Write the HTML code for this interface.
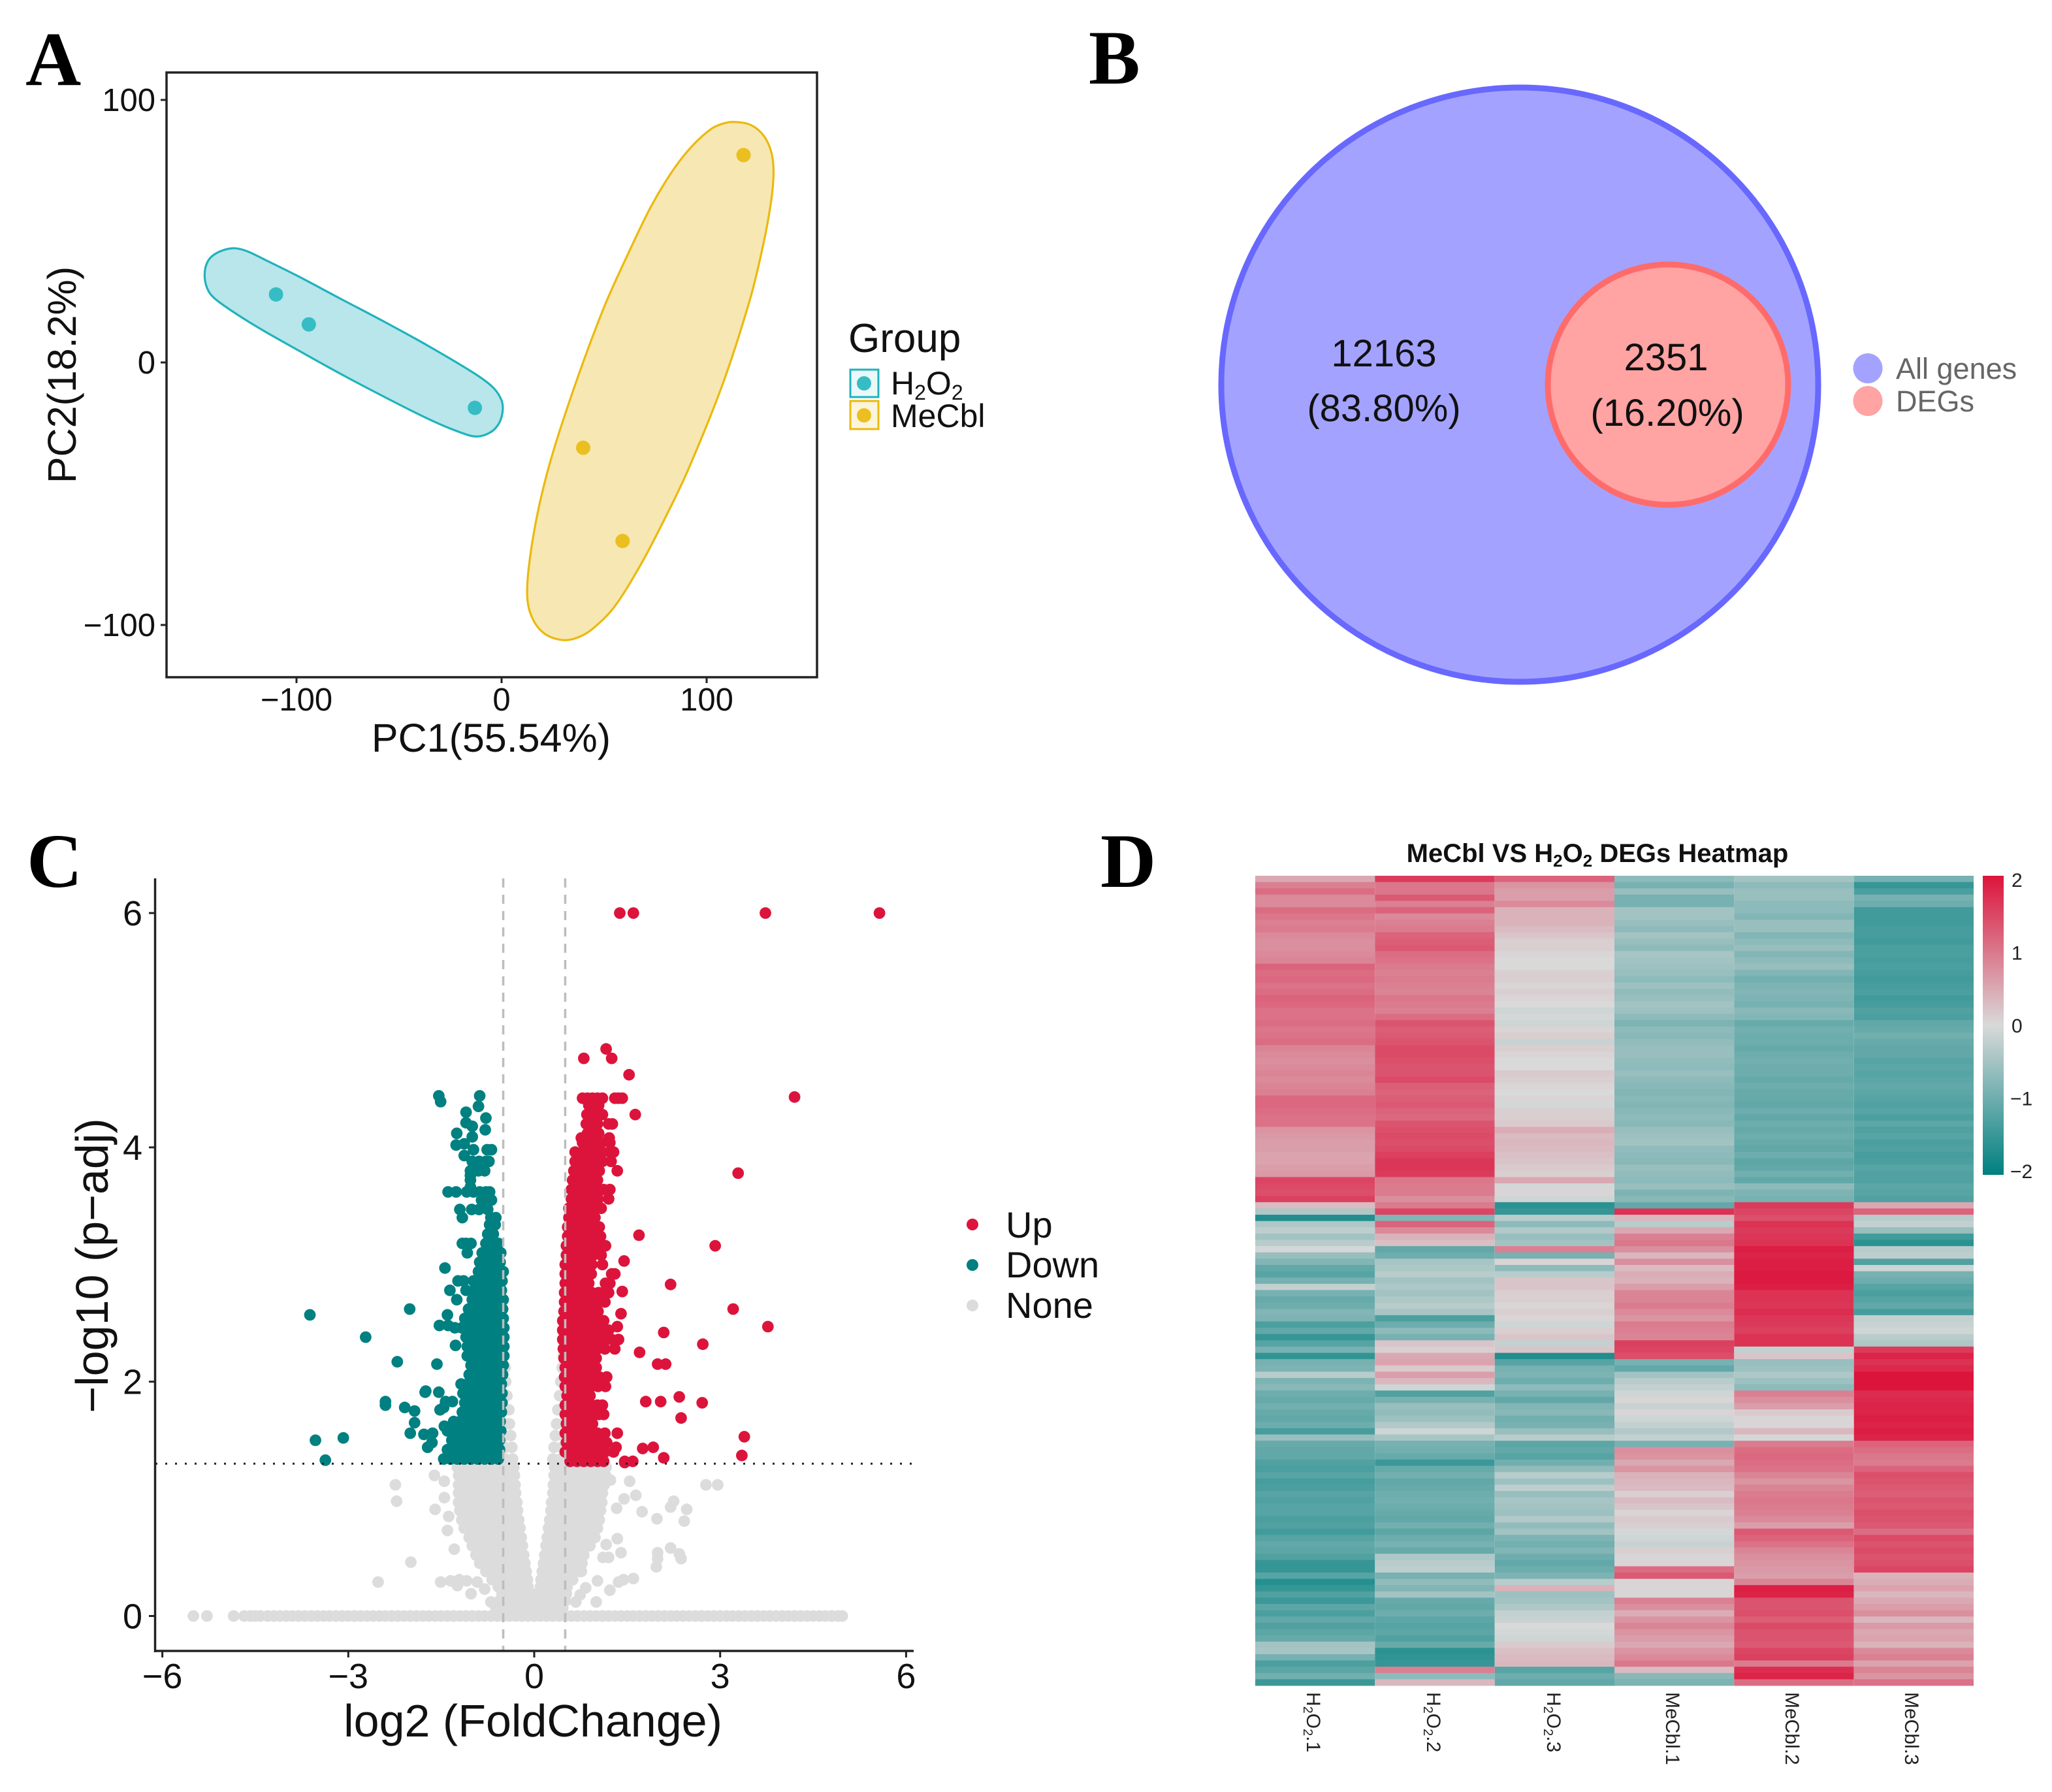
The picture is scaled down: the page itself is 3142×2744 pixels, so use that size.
<!DOCTYPE html>
<html lang="en">
<head>
<meta charset="utf-8">
<title>PCA, Venn, volcano and heatmap panels</title>
<style>
html,body{margin:0;padding:0;background:#fff;}
svg{display:block;font-family:"Liberation Sans",Arial,sans-serif;}
.panel{font-family:"Liberation Serif",serif;font-weight:bold;font-size:118px;fill:#000;}
</style>
</head>
<body>
<svg id="fig" xmlns="http://www.w3.org/2000/svg" width="3142" height="2744" viewBox="0 0 3142 2744">
<defs>
<linearGradient id="heatGrad" x1="0" y1="0" x2="0" y2="1">
<stop offset="0" stop-color="#DC143C"/><stop offset="0.5" stop-color="#D9D9D9"/><stop offset="1" stop-color="#008080"/>
</linearGradient>
</defs>
<rect width="3142" height="2744" fill="#fff"/>

<text class="panel" x="39" y="130">A</text>
<text class="panel" x="1667" y="128">B</text>
<text class="panel" x="41" y="1358">C</text>
<text class="panel" x="1685" y="1358">D</text>

<g id="pca">
<g id="pcaMarks"></g>
<rect x="255" y="111" width="996" height="926" fill="none" stroke="#222" stroke-width="3.5"/>
<g id="pcaAxes"></g>
<text x="752" y="1151" font-size="61" text-anchor="middle" fill="#111">PC1(55.54%)</text>
<text transform="translate(116,574) rotate(-90)" font-size="61" text-anchor="middle" fill="#111">PC2(18.2%)</text>
<text x="1299" y="539" font-size="62" fill="#111">Group</text>
<g>
<rect x="1302" y="566" width="43" height="42" fill="#EAF8F9" stroke="#1FB3BC" stroke-width="3"/>
<circle cx="1323" cy="587" r="11" fill="#36BCC4"/>
<text x="1364" y="604" font-size="50" fill="#111">H<tspan font-size="32" dy="8">2</tspan><tspan dy="-8">O</tspan><tspan font-size="32" dy="8">2</tspan></text>
</g>
<g>
<rect x="1302" y="614" width="43" height="43" fill="#FCF5DC" stroke="#EBB90F" stroke-width="3"/>
<circle cx="1323" cy="636" r="11" fill="#EBBF20"/>
<text x="1364" y="654" font-size="50" fill="#111">MeCbl</text>
</g>
</g>

<g id="venn">
<ellipse cx="2327" cy="589" rx="457" ry="455" fill="#A3A3FF" stroke="#6868FF" stroke-width="9"/>
<ellipse cx="2554" cy="589" rx="184" ry="184" fill="#FFA3A3" stroke="#FF6B6B" stroke-width="9"/>
<text x="2119" y="561" font-size="58" text-anchor="middle" fill="#111">12163</text>
<text x="2119" y="645" font-size="58" text-anchor="middle" fill="#111">(83.80%)</text>
<text x="2551" y="567" font-size="58" text-anchor="middle" fill="#111">2351</text>
<text x="2553" y="652" font-size="58" text-anchor="middle" fill="#111">(16.20%)</text>
<g>
<ellipse cx="2860" cy="564" rx="22.5" ry="23" fill="#A3A3FF"/>
<text x="2903" y="580" font-size="45" fill="#666">All genes</text>
</g>
<g>
<ellipse cx="2860" cy="614" rx="22.5" ry="23" fill="#FFA3A3"/>
<text x="2903" y="630" font-size="45" fill="#666">DEGs</text>
</g>
</g>

<g id="volcano">
<g id="volMarks"></g>
<g id="volRefs"></g>
<g id="volAxes"></g>
<text x="816" y="2659" font-size="70" text-anchor="middle" fill="#111">log2 (FoldChange)</text>
<text transform="translate(165,1938) rotate(-90)" font-size="70" text-anchor="middle" fill="#111">−log10 (p−adj)</text>
<g>
<circle cx="1489" cy="1875" r="9" fill="#DC143C"/>
<text x="1540" y="1895" font-size="56" fill="#111">Up</text>
</g>
<g>
<circle cx="1489" cy="1937" r="9" fill="#008080"/>
<text x="1540" y="1956" font-size="56" fill="#111">Down</text>
</g>
<g>
<circle cx="1489" cy="1999" r="9" fill="#DCDCDC"/>
<text x="1540" y="2018" font-size="56" fill="#111">None</text>
</g>
</g>

<g id="heat">
<text x="2446" y="1320" font-size="40" font-weight="bold" text-anchor="middle" fill="#111">MeCbl VS H<tspan font-size="26" dy="7">2</tspan><tspan dy="-7">O</tspan><tspan font-size="26" dy="7">2</tspan><tspan dy="-7"> DEGs Heatmap</tspan></text>
<g id="heatCells"></g>
<rect x="3036" y="1341" width="32" height="458" fill="url(#heatGrad)"/>
<g id="heatTicks"></g>
<g font-size="30" fill="#222">
<text transform="translate(2001,2591) rotate(90)">H<tspan font-size="20" dy="5">2</tspan><tspan dy="-5">O</tspan><tspan font-size="20" dy="5">2</tspan><tspan dy="-5">.1</tspan></text>
<text transform="translate(2185,2591) rotate(90)">H<tspan font-size="20" dy="5">2</tspan><tspan dy="-5">O</tspan><tspan font-size="20" dy="5">2</tspan><tspan dy="-5">.2</tspan></text>
<text transform="translate(2369,2591) rotate(90)">H<tspan font-size="20" dy="5">2</tspan><tspan dy="-5">O</tspan><tspan font-size="20" dy="5">2</tspan><tspan dy="-5">.3</tspan></text>
<text transform="translate(2551,2591) rotate(90)">MeCbl.1</text>
<text transform="translate(2734,2591) rotate(90)">MeCbl.2</text>
<text transform="translate(2917,2591) rotate(90)">MeCbl.3</text>
</g>
</g>
</svg>

<script>
/* ---------- Panel A: PCA values ---------- */
const pcaXTicks = [-100, 0, 100];
const pcaYTicks = [100, 0, -100];
const h2o2PC1 = [-110, -94, -13];
const h2o2PC2 = [25.9, 14.5, -17.3];
const mecblPC1 = [118, 39.8, 59];
const mecblPC2 = [79, -32.5, -68];
const h2o2HullPC1 = [-131,-124.6,-115.1,-99.1,-77.9,-56.7,-35.5,-14.2,-4.7,-.4,.6,-1,-5.2,-12.1,-20.6,-35.5,-56.7,-77.9,-99.1,-120.4,-137.4,-142.7,-144.8,-143.2,-138.4];
const h2o2HullPC2 = [43.5,42.5,39,32.8,24,15.3,6.2,-3.7,-9.1,-13.7,-17.8,-22.8,-26.5,-28.2,-26.5,-21.6,-13.3,-4.6,4.6,14.1,22.8,26.9,32.8,38.6,41.9];
const mecblHullPC1 = [114.2,121.7,128,131.7,132.6,131.2,127,120.7,107.6,90.4,79.2,67.5,54.8,44.2,36.7,29.3,20.8,15,12.5,13.9,18.2,25,36.9,50,60.5,72.8,83.4,93,102.5,108.9];
const mecblHullPC2 = [91.6,90.4,86.2,79.6,71.7,60.1,42.7,22.8,-8.7,-41.9,-60.1,-77.5,-93.3,-101.6,-104.9,-105.7,-103.2,-97.4,-89.1,-74.2,-55.1,-34.4,-6.2,21.1,39.4,59.3,73,82.5,89.1,91.2];

/* ---------- Panel C: volcano values. Each row: first number is -log10(p-adj), the rest are log2FC ---------- */
const volXTicks = [-6, -3, 0, 3, 6];
const volYTicks = [6, 4, 2, 0];
const volThresholdsX = [-0.5, 0.5];
const volThresholdY = 1.3;
const noneRows = [
[0,-5.5,-5.28,-4.85,-4.68,-4.58,-4.5,-4.42,-4.3,-4.2,-4.1,-4,-3.9,-3.8,-3.7,-3.6,-3.5,-3.4,-3.3,-3.2,-3.1,-3,-2.9,-2.8,-2.7,-2.6,-2.5,-2.4,-2.3,-2.2,-2.1,-2,-1.9,-1.8,-1.7,-1.6,-1.5,-1.4,-1.3,-1.2,-1.1,-1,-.9,-.8,-.7,-.6,-.5,-.4,-.3,-.2,-.1,0,.1,.2,.3,.4,.5,.6,.7,.8,.9,1,1.1,1.2,1.3,1.4,1.5,1.6,1.7,1.8,1.9,2,2.1,2.2,2.3,2.4,2.5,2.6,2.7,2.8,2.9,3,3.1,3.2,3.3,3.4,3.5,3.6,3.7,3.8,3.9,4,4.1,4.2,4.3,4.4,4.5,4.6,4.7,4.8,4.9,4.97],
[.07,-.62,-.5,-.38,-.26,-.14,-.02,.1,.22,.34,.46],
[.13,-.56,-.44,-.32,-.2,-.08,.04,.16,.28,.4,.5],
[.19,-.52,-.4,-.28,-.16,-.04,.08,.2,.32,.44,.52],
[.25,-.58,-.46,-.34,-.22,-.1,.1,.22,.34,.46,.53],
[.31,-.68,-.56,-.44,-.32,-.2,-.11,.11,.2,.32,.44,.56,.62],
[.38,-.78,-.66,-.54,-.42,-.3,-.2,-.13,.13,.26,.38,.5,.62,.74,.76],
[.45,-.88,-.76,-.64,-.52,-.4,-.28,-.15,.15,.2,.32,.44,.56,.68,.77],
[.52,-.94,-.82,-.7,-.58,-.46,-.34,-.22,-.17,.17,.26,.38,.5,.62,.74,.8],
[.6,-1,-.88,-.76,-.64,-.52,-.4,-.28,-.19,.19,.32,.44,.56,.68,.8,.9],
[.67,-1.05,-.93,-.81,-.69,-.57,-.45,-.33,-.21,.21,.26,.38,.5,.62,.74,.86,.98],
[.75,-1.13,-1.01,-.89,-.77,-.65,-.53,-.41,-.29,-.23,.23,.32,.44,.56,.68,.8,.92,1.02],
[.82,-1.17,-1.05,-.93,-.81,-.69,-.57,-.45,-.33,-.25,.25,.38,.5,.62,.74,.86,.98,1.05],
[.9,-1.2,-1.08,-.96,-.84,-.72,-.6,-.48,-.36,-.27,.27,.32,.44,.56,.68,.8,.92,1.04,1.07],
[.97,-1.22,-1.1,-.98,-.86,-.74,-.62,-.5,-.38,-.28,.28,.38,.5,.62,.74,.86,.98,1.09],
[1.05,-1.22,-1.12,-1,-.88,-.76,-.64,-.52,-.4,-.3,.3,.44,.56,.68,.8,.92,1.04,1.1],
[1.12,-1.22,-1.1,-.98,-.86,-.74,-.62,-.5,-.38,-.31,.31,.38,.5,.62,.74,.86,.98,1.1,1.13],
[1.2,-1.22,-1.12,-1,-.88,-.76,-.64,-.52,-.4,-.32,.32,.44,.56,.68,.8,.92,1.04,1.15],
[1.27,-1.24,-1.1,-.98,-.86,-.74,-.62,-.5,-.38,-.33,.33,.38,.5,.62,.74,.86,.98,1.1,1.16],
[1.34,-.46,-.35,.3,.42],[1.44,-.47,-.36,.32,.44],[1.54,-.48,-.38,.34,.46],[1.64,-.48,-.4,.36,.47],[1.76,-.5,-.41,.38,.48],[1.88,-.5,-.44,.41,.48],[2,-.5,-.46,.43,.48],[2.12,-.47,.45],[2.22,-.5,.47],[2.32,.48],
[1.2,-1.61],[1.15,-1.45,1.54],[1.12,-2.24,2.77,2.96],[.98,-2.22,2.25],[1.01,-1.45],[.91,-1.6,2.46],[.85,-1.38],[.73,-1.4],[.57,-1.29],[.46,-1.99],[.29,-2.52,-1.51,-.92,1.36],[.3,-1.35,-1.09,1.02],[.31,-1.21,1.44],[.26,-1.24],[.19,-1.02],[.23,-.8],[.12,-.7,.67,1],
[1.16,1.23],[1.03,1.64],[1,1.45],[.92,1.33],[.89,1.74],[.83,1.98],[.93,2.2],[.81,2.42],[.66,1.34],[.61,1.16],[.54,1.4,1.99],[.5,1.11,1.2],[.22,1.22],[.32,1.6],[.24,.83],[.18,.74],[.49,1.99,2.37],[.58,2.2],[.53,2.34],[.42,1.97]
];
const downRows = [
[1.34,-1.46,-1.35,-1.24,-1.13,-1.02,-.91,-.8,-.69,-.58],
[1.42,-1.4,-1.29,-1.18,-1.07,-.96,-.85,-.74,-.63,-.56],
[1.5,-1.33,-1.22,-1.11,-1,-.89,-.78,-.67,-.56],
[1.58,-1.4,-1.28,-1.16,-1.05,-.94,-.83,-.72,-.61,-.54],
[1.66,-1.3,-1.2,-1.1,-.99,-.88,-.77,-.66,-.55],
[1.74,-1.16,-1.05,-.94,-.83,-.72,-.61,-.53],
[1.82,-1.12,-1.01,-.9,-.79,-.68,-.57,-.52],
[1.9,-1.15,-1.05,-.94,-.83,-.72,-.61,-.52],
[1.98,-1.18,-1.08,-.97,-.86,-.75,-.64,-.53],
[2.06,-1.05,-.94,-.83,-.72,-.61,-.51],
[2.14,-1.02,-.91,-.8,-.69,-.58,-.5],
[2.22,-1.08,-.97,-.86,-.75,-.64,-.53,-.49],
[2.3,-1.08,-.99,-.88,-.77,-.66,-.55,-.49],
[2.38,-1.1,-.99,-.88,-.77,-.66,-.55,-.49],
[2.46,-1.28,-1.17,-1.06,-.95,-.84,-.73,-.62,-.51,-.49],
[2.54,-1.12,-1.01,-.9,-.79,-.68,-.57,-.5],
[2.62,-1.06,-.95,-.84,-.73,-.62,-.51],
[2.7,-1.25,-1,-.89,-.78,-.67,-.56,-.5],
[2.78,-1.1,-.97,-.86,-.75,-.64,-.53],
[2.86,-1.23,-1.14,-.98,-.92,-.81,-.7,-.59,-.52],
[2.94,-.9,-.79,-.68,-.57,-.5],
[3.02,-.88,-.77,-.66,-.55],
[3.1,-1.08,-.84,-.73,-.62,-.54],
[3.18,-1.16,-1.1,-1.02,-.78,-.67,-.58],
[3.26,-.75,-.66],[3.34,-.72,-.63],[3.4,-1.16,-.7,-.62],[3.47,-1.2,-1.01,-.89,-.75],[3.55,-.85,-.78,-.69],[3.62,-1.39,-1.26,-1.09,-.98,-.88,-.78,-.72],[3.66,-1.03],[3.72,-1.03],[3.76,-1.03],[3.8,-1.03,-.98,-.9,-.8],[3.88,-.89,-.78,-1,-.73],[3.98,-.98,-.76,-.69],[4.03,-1.13],[4.12,-1.25],[4.18,-1],[4.25,-.78],[4.3,-1.1],[4.35,-.9],[4.21,-1.1],[4.15,-.79],[4.09,-1],[4.02,-1.26],[3.93,-1.13],
[4.44,-1.54,-.88],[4.39,-1.51],
[2.57,-3.62,-1.4],[2.62,-2.01],[2.38,-2.72],[2.17,-2.21],[2.15,-1.57],[1.83,-2.4,-1.43,-1.32],[1.8,-2.4],[1.78,-2.09,-1.46],[1.75,-1.93],[1.92,-1.75],[1.5,-3.53],[1.52,-3.08],[1.33,-3.37],[1.65,-1.93],[1.56,-2,-1.64],[1.55,-1.78],[1.44,-1.72],[1.48,-1.65],[2.97,-1.44],[2.78,-1.36],[2.48,-1.53,-1.39],[2.31,-1.27],[1.91,-1.76,-1.54],[1.76,-1.52],[1.62,-1.45,-1.29]
];
const upRows = [
[1.32,.58,.69,.8,.91,1.02,1.12,1.46,1.59],
[1.4,.5,.6,.71,.82,.93,1.04,1.14,1.28],
[1.48,.52,.62,.73,.84,.95,1.06,1.17],
[1.56,.5,.6,.71,.82,.93,1.02,1.14],
[1.64,.52,.62,.73,.84,.94],
[1.72,.5,.6,.71,.82,.93,1.04,1.12],
[1.8,.5,.6,.71,.82,.92,1.02,1.1],
[1.88,.53,.62,.73,.84,.9],
[1.96,.5,.6,.71,.82,.92,1.03,1.15],
[2.04,.49,.6,.71,.82,.93,1.05,1.17],
[2.12,.5,.6,.71,.82,.92,1],
[2.2,.48,.58,.69,.8,.91,1],
[2.28,.47,.58,.69,.8,.91,1.02,1.14,1.3],
[2.36,.46,.57,.68,.79,.9,1.01,1.12,1.25,1.36],
[2.44,.46,.57,.68,.79,.9,1.01,1.12,1.2],
[2.52,.46,.57,.68,.79,.9,1.01,1.12],
[2.6,.48,.59,.7,.81,.92,1.03],
[2.68,.49,.6,.71,.82,.93,1.04,1.14],
[2.76,.49,.6,.71,.82,.93,1.04,1.12,1.2],
[2.84,.5,.6,.7,.81,.88,1.15,1.22],
[2.92,.5,.6,.71,.82,.92,1.25,1.3],
[3,.5,.6,.71,.82,.93,1.1],
[3.08,.52,.62,.73,.84,.95,1.08],
[3.16,.52,.62,.73,.84,.95,1.06,1.15],
[3.24,.54,.64,.74,.85,.96,1.07],
[3.32,.54,.64,.75,.85,.96,1.05],
[3.4,.56,.66,.77,.88,.98],
[3.48,.56,.66,.77,.88,.99,1.08],
[3.56,.6,.7,.81,.92,1.03,1.2],
[3.64,.6,.7,.81,.92,1.03,1.12,1.22],
[3.72,.62,.72,.83,.94,1.02],
[3.8,.64,.75,.86,.97,1.05,1.34],
[3.88,.66,.77,.88,.99,1.1,1.24],
[3.96,.66,.77,.88,.99,1.1,1.22,1.28],
[4.04,.78,.88,.99,1.08,1.22],
[4.08,.76,1.21],
[4.12,.86,.95,1.04],
[4.2,.84,.93,1.02,1.2,1.26],
[4.28,.85,.94,1.03,1.1],
[4.36,.88,.96,1.04],
[4.42,.78,.86,.94,1.02,1.1,1.3,1.36,1.42],
[6,1.38,1.6,3.73,5.57],[4.84,1.16],[4.76,.8,1.25],[4.62,1.53],[4.43,4.2],[4.28,1.63],[3.78,3.29],[3.25,1.69],[3.16,2.92],[3.03,1.45],[2.83,2.2],[2.77,1.42],[2.62,3.21],[2.58,1.4],[2.47,3.77,1.34],[2.42,2.09],[2.32,2.72],[2.25,1.7],[2.15,1.99,2.12],[1.83,1.8,2.04],[1.87,2.34],[1.82,2.71],[1.69,2.37],[1.53,3.39],[1.56,1.34],[1.37,3.35],[1.44,1.92,1.32],[1.43,1.75],[1.35,2.09],[1.31,1.46]
];

/* ---------- Panel D: heatmap z-scores, top row first, columns in this order ---------- */
const heatColumns = ['H2O2.1','H2O2.2','H2O2.3','MeCbl.1','MeCbl.2','MeCbl.3'];
const heatTickValues = [2, 1, 0, -1, -2];
const heatRows = [
[.5,1.6,1.2,-.7,-.5,-.9],[.9,1,.7,-.9,-.7,-1.5],[1.1,1,.6,-.6,-.6,-1.3],[.8,1.3,.6,-.9,-.6,-.9],[.8,.9,.8,-.9,-.7,-1],
[1.1,1.2,.4,-.5,-.7,-1.4],[1,.8,.4,-.5,-.8,-1.4],[.9,.9,.4,-.6,-.6,-1.4],[.95,.95,.3,-.7,-.6,-1.35],[.8,1.2,.2,-.5,-.8,-1.35],
[.75,1.25,.1,-.6,-.7,-1.4],[.75,1.3,.1,-.7,-.6,-1.3],[.8,1.1,.05,-.45,-.8,-1.3],[.85,1.05,0,-.5,-.7,-1.35],[1.2,.95,0,-.55,-.6,-1.3],
[1.1,.9,.1,-.6,-.8,-1.35],[1.15,.95,.1,-.7,-.95,-1.4],[1.05,.9,.05,-.55,-.85,-1.35],[1.1,.85,.1,-.65,-.8,-1.3],[1.2,1,.05,-.6,-.85,-1.4],
[1.15,.95,0,-.5,-.9,-1.35],[1.05,.9,-.1,-.55,-.75,-1.25],[1.05,1.1,-.05,-.7,-.8,-1.3],[1.1,1.35,-.1,-.85,-1.05,-1.1],[1,1.25,.05,-.7,-.95,-1.05],
[1.05,1.3,.1,-.75,-1,-.95],[1.1,1.35,-.15,-.65,-1,-1.05],[.85,1.45,.1,-.6,-1.05,-1.1],[.8,1.45,.05,-.6,-1,-1.1],[.75,1.4,0,-.65,-.95,-1.2],
[.8,1.35,0,-.7,-1,-1.15],[.85,1.35,.15,-.6,-1,-1.2],[.8,1.45,.1,-.7,-1.05,-1.15],[.85,1.25,.05,-.75,-1,-1.1],[.9,1.2,0,-.8,-1.05,-1.15],
[1.15,1.25,.05,-.75,-1.05,-1.2],[1.15,1.3,-.05,-.8,-1.1,-1.25],[1.1,1.2,.1,-.75,-1,-1.2],[1.05,1.15,.1,-.7,-1.1,-1.3],[1.05,1.35,.15,-.75,-1,-1.15],
[.7,1.4,.45,-.6,-1.05,-1.25],[.65,1.45,.3,-.55,-1,-1.2],[.6,1.4,.35,-.5,-1.05,-1.3],[.6,1.45,.3,-.65,-1.1,-1.25],[.55,1.55,.25,-.7,-1,-1.35],
[.55,1.65,.2,-.75,-1.15,-1.3],[.6,1.65,.15,-.6,-1.1,-1.2],[.65,1.6,.1,-.65,-.95,-1.25],[1.5,1,.5,-.7,-1.1,-1.25],[1.45,.95,-.05,-.6,-.7,-1.15],
[1.4,.95,.05,-.85,-.85,-1.2],[1.55,.75,-.1,-.75,-.9,-1.25],[.3,.95,-1.6,-1.1,1.6,.5],[-.4,1.5,-1.5,1.7,1.5,1.2],[-1.7,-.8,-.3,.35,1.4,-.3],
[-.4,1.2,-.7,-.3,1.7,-.2],[-.25,.8,-.35,.5,1.6,-.6],[-.5,.4,-.6,.9,1.65,-1.4],[-.3,.25,-.5,1,1.7,-1.6],[-.05,-1.1,.9,.75,1.9,-.3],
[-.6,-1,-.9,.35,1.85,-.25],[-.8,-.45,.05,.75,1.9,-1.25],[-1.1,-.4,-.7,.3,1.9,-.1],[-1.2,-.3,-.3,.45,1.95,-.9],[-.9,-.5,.2,.4,1.95,-1],[-.2,-.4,.2,.6,1.9,-1.2],
[-.9,-.5,.1,.85,1.7,-1.3],[-1.05,-.4,.1,.85,1.7,-1.2],[-1,-.3,.05,.95,1.65,-1.1],[-.8,-.45,.1,.8,1.75,-1.35],[-.85,-1.3,.05,.7,1.65,-.2],[-1.3,-1,-.1,.95,1.6,-.15],
[-1.1,-.7,.1,.9,1.55,-.1],[-1.5,-.9,.2,.85,1.7,-.3],[-1.2,.2,-.2,1.55,1.7,-.4],[-.9,.1,.2,1.5,-.2,1.6],[-1.55,.5,-1.7,1.4,.2,1.85],
[-.9,.55,-1.2,-.9,-.6,1.7],[-.85,.15,-.9,-1.1,-.55,1.8],[-.3,.6,-.85,-.5,-.4,2],[-.85,.35,-1,-.3,-.55,2],[-.75,-.1,-.7,-.2,-.7,2],
[-1,-1.25,-.9,-.1,.9,1.75],[-1.05,-.9,-1.1,.05,.75,1.8],[-.95,-.6,-.8,-.15,.6,1.85],[-1.05,-.65,-.75,.05,.15,1.85],[-1.1,-.55,-.95,-.1,.05,1.9],
[-1,-.35,-.9,-.2,.05,1.85],[-1.35,-.1,-.6,-.35,.35,1.9],[-.6,-.45,-.3,-.2,-.05,1.85],[-1.05,-.9,-1.15,-.9,.95,1.2],[-1.1,-.95,-1.1,.75,1.1,1.1],[-1.1,-1.05,-1.2,.7,1.15,1],
[-1.25,-1.45,-.95,.5,1.1,.95],[-1.3,-1.05,-.65,.7,1.05,1.2],[-1.2,-.95,-.3,.4,.85,1.4],[-1.35,-1.1,-.55,.35,.7,1.35],[-1.3,-1.05,-.25,.3,.85,1.3],
[-1.2,-1,-.6,.1,.95,1.25],[-1.25,-.95,-.45,.3,1,1.35],[-1.2,-1,-.5,.2,.95,1.3],[-1.2,-1.05,-.55,.05,.9,1.4],[-1.3,-1.1,-.35,.15,.8,1.35],[-1.25,-.95,-.65,.1,.6,1.3],
[-1.4,-1.15,-.5,-.05,1.3,1.1],[-1.2,-1,-.85,-.1,1.2,1.45],[-1.1,-.9,-.95,-.15,1.05,1.35],[-1.15,-1.05,-.8,.1,.85,1.45],[-1.25,-.4,-1,.05,.75,1.35],[-1.5,-.3,-1.1,.05,.7,1.4],
[-1.5,-.25,-1,1.1,.65,1.5],[-1.2,-.9,-.85,1.3,.6,.4],[-1.65,-.65,-.3,.05,.85,.45],[-1.5,-.8,.4,.05,1.9,.55],[-1.25,-.5,-.55,.05,1.85,.35],
[-1.45,-1.05,-.5,.9,1.35,.5],[-1.15,-1.1,-.4,.75,1.35,.6],[-1.3,-1,-.2,.45,1.4,.75],[-1.1,-1.15,-.15,.7,1.25,.35],[-1.25,-1.2,0,.85,1.45,.65],[-1.15,-1.15,-.05,.7,1.35,.5],
[-1.05,-1.25,-.1,.6,1.35,.55],[-.5,-1.05,.15,.5,1.3,.4],[-.45,-1.6,.25,.7,1.5,.8],[-.9,-1.55,.3,.8,1.55,.9],[-1.3,-1.5,.35,1,.95,.55],
[-1.15,.9,-1.2,.3,1.75,.85],[-.95,-.7,-1,-.75,1.85,.7],[-1.45,.35,-1.1,-.85,1.1,1.05]
];

/* ---------- shared helpers ---------- */
const NS = 'http://www.w3.org/2000/svg';
function make(tag, parent, attrs, text) {
  const el = document.createElementNS(NS, tag);
  for (const k in attrs) el.setAttribute(k, attrs[k]);
  if (text !== undefined) el.textContent = text;
  parent.appendChild(el);
  return el;
}
function fmt(v) { return String(v).replace('-', '\u2212'); }
function smoothClosed(pts) {
  const n = pts.length;
  const tangent = i => {
    const a = pts[(i - 1 + n) % n], b = pts[(i + 1) % n];
    const dx = b[0] - a[0], dy = b[1] - a[1], len = Math.hypot(dx, dy) || 1;
    return [dx / len, dy / len];
  };
  let d = 'M' + pts[0][0].toFixed(1) + ' ' + pts[0][1].toFixed(1);
  for (let i = 0; i < n; i++) {
    const p1 = pts[i], p2 = pts[(i + 1) % n];
    const seg = Math.hypot(p2[0] - p1[0], p2[1] - p1[1]) / 3;
    const t1 = tangent(i), t2 = tangent((i + 1) % n);
    d += 'C' + (p1[0] + t1[0] * seg).toFixed(1) + ' ' + (p1[1] + t1[1] * seg).toFixed(1) + ' ' + (p2[0] - t2[0] * seg).toFixed(1) + ' ' + (p2[1] - t2[1] * seg).toFixed(1) + ' ' + p2[0].toFixed(1) + ' ' + p2[1].toFixed(1);
  }
  return d + 'Z';
}

/* ---------- PCA ---------- */
const pcaX = v => 768 + v * 3.14;
const pcaY = v => 555 - v * 4.02;
const pcaMarks = document.getElementById('pcaMarks');
const pcaAxes = document.getElementById('pcaAxes');

function drawHull(hx, hy, fill, stroke, name) {
  const pts = hx.map((v, i) => [pcaX(v), pcaY(hy[i])]);
  const hull = make('path', pcaMarks, { d: smoothClosed(pts), fill: fill, stroke: stroke, 'stroke-width': 3.2 });
  
  
}
drawHull(h2o2HullPC1, h2o2HullPC2, '#B8E6EA', '#1FB3BC', 'pca-ellipse-h2o2');
drawHull(mecblHullPC1, mecblHullPC2, '#F7E7B2', '#EBB90F', 'pca-ellipse-mecbl');

function drawPcaPoints(xs, ys, fill, name) {
  xs.forEach((v, i) => {
    const dot = make('circle', pcaMarks, { cx: pcaX(v), cy: pcaY(ys[i]), r: 11, fill: fill });
    
    
  });
}
drawPcaPoints(h2o2PC1, h2o2PC2, '#36BCC4', 'pca-point-h2o2');
drawPcaPoints(mecblPC1, mecblPC2, '#EBBF20', 'pca-point-mecbl');

pcaXTicks.forEach(v => {
  const tick = make('line', pcaAxes, { x1: pcaX(v), x2: pcaX(v), y1: 1037, y2: 1046, stroke: '#222', 'stroke-width': 3 });
  
  
  const label = make('text', pcaAxes, { x: pcaX(v), y: 1088, 'font-size': 49, 'text-anchor': 'middle', fill: '#111' }, fmt(v));
  
  
});
pcaYTicks.forEach(v => {
  const tick = make('line', pcaAxes, { x1: 246, x2: 255, y1: pcaY(v), y2: pcaY(v), stroke: '#222', 'stroke-width': 3 });
  
  
  const label = make('text', pcaAxes, { x: 238, y: pcaY(v) + 17, 'font-size': 49, 'text-anchor': 'end', fill: '#111' }, fmt(v));
  
  
});

/* ---------- Volcano ---------- */
const volX = v => 818 + v * 94.9;
const volY = v => 2474.5 - v * 179.4;
const volMarks = document.getElementById('volMarks');
const volRefs = document.getElementById('volRefs');
const volAxes = document.getElementById('volAxes');

function drawVolRows(rows, fill, name) {
  rows.forEach(row => {
    for (let i = 1; i < row.length; i++) {
      const dot = make('circle', volMarks, { cx: volX(row[i]).toFixed(1), cy: volY(row[0]).toFixed(1), r: 8.9, fill: fill });
      
      
    }
  });
}
drawVolRows(noneRows, '#DCDCDC', 'volcano-point-none');
drawVolRows(downRows, '#008080', 'volcano-point-down');
drawVolRows(upRows, '#DC143C', 'volcano-point-up');

volThresholdsX.forEach(v => {
  const line = make('line', volRefs, { x1: volX(v), x2: volX(v), y1: 1345, y2: 2528, stroke: '#BDBDBD', 'stroke-width': 3.5, 'stroke-dasharray': '14 11' });
  
  
});
const pLine = make('line', volRefs, { x1: 238, x2: 1399, y1: volY(volThresholdY), y2: volY(volThresholdY), stroke: '#222', 'stroke-width': 3, 'stroke-dasharray': '3 12' });



const volXAxis = make('line', volAxes, { x1: 236, x2: 1399, y1: 2528, y2: 2528, stroke: '#222', 'stroke-width': 3.5 });


const volYAxis = make('line', volAxes, { x1: 237.5, x2: 237.5, y1: 1345, y2: 2530, stroke: '#222', 'stroke-width': 3.5 });



volXTicks.forEach(v => {
  const tick = make('line', volAxes, { x1: volX(v), x2: volX(v), y1: 2528, y2: 2538, stroke: '#222', 'stroke-width': 3 });
  
  
  const label = make('text', volAxes, { x: volX(v), y: 2585, 'font-size': 54, 'text-anchor': 'middle', fill: '#111' }, fmt(v));
  
  
});
volYTicks.forEach(v => {
  const tick = make('line', volAxes, { x1: 228, x2: 237, y1: volY(v), y2: volY(v), stroke: '#222', 'stroke-width': 3 });
  
  
  const label = make('text', volAxes, { x: 218, y: volY(v) + 19, 'font-size': 54, 'text-anchor': 'end', fill: '#111' }, fmt(v));
  
  
});

/* ---------- Heatmap ---------- */
const heatLeft = 1922, heatTop = 1341, heatW = 1100, heatH = 1240;
const colX = i => heatLeft + i * heatW / heatColumns.length;
const rowY = i => heatTop + i * heatH / heatRows.length;
const lowRGB = [0, 128, 128], midRGB = [217, 217, 217], highRGB = [220, 20, 60];
function heatColor(z) {
  const t = Math.min(1, Math.abs(z) / 2);
  const end = z >= 0 ? highRGB : lowRGB;
  const c = midRGB.map((m, k) => Math.round(m + (end[k] - m) * t));
  return 'rgb(' + c.join(',') + ')';
}
const heatCells = document.getElementById('heatCells');
heatRows.forEach((row, r) => {
  row.forEach((z, c) => {
    const cell = make('rect', heatCells, { x: colX(c).toFixed(1), y: rowY(r).toFixed(2), width: (heatW / heatColumns.length).toFixed(1), height: (heatH / heatRows.length + 0.4).toFixed(2), fill: heatColor(z) });
    
    
  });
});
const heatTicks = document.getElementById('heatTicks');
heatTickValues.forEach(v => {
  const label = make('text', heatTicks, { x: v < 0 ? 3078 : 3080, y: 1570 - v * 111.5 + 11, 'font-size': 30, fill: '#222' }, fmt(v));
  
  
});
</script>
</body>
</html>
